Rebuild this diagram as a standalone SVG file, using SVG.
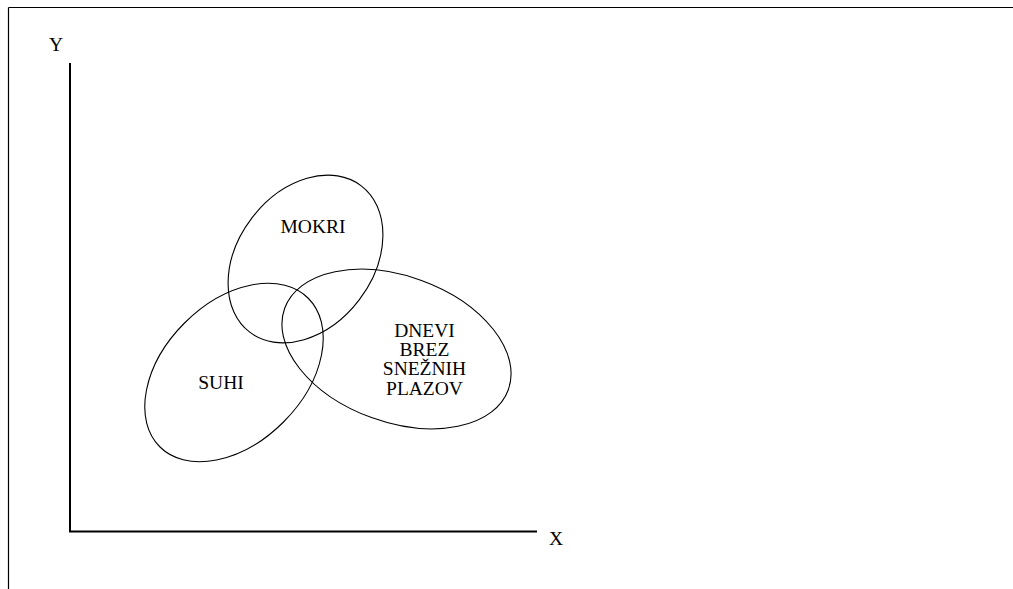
<svg xmlns="http://www.w3.org/2000/svg" width="1013" height="589" viewBox="0 0 1013 589">
  <style>
    .frame { stroke: #000; stroke-width: 1.2; fill: none; }
    .axis { stroke: #000; stroke-width: 2; fill: none; }
    .set { stroke: #000; stroke-width: 1.1; fill: none; }
    .lbl { font-family: "Liberation Serif", "Times New Roman", serif; font-size: 19.5px; fill: #000; text-anchor: middle; }
  </style>
  <rect width="1013" height="589" fill="#fff"/>
  <!-- page frame -->
  <g id="frame">
    <line class="frame" x1="8.5" y1="7.5" x2="1013" y2="7.5"/>
    <line class="frame" x1="8.5" y1="7.5" x2="8.5" y2="589"/>
  </g>
  <!-- coordinate axes -->
  <g id="axes">
    <polyline class="axis" points="70,63 70,531.5 537,531.5"/>
    <text class="lbl" x="56" y="51">Y</text>
    <text class="lbl" x="556" y="545">X</text>
  </g>
  <!-- sets -->
  <g id="mokri">
    <ellipse class="set" cx="305.5" cy="259" rx="92" ry="67.5" transform="rotate(-52.7 305.5 259)"/>
    <text class="lbl" x="313" y="233">MOKRI</text>
  </g>
  <g id="suhi">
    <ellipse class="set" cx="234" cy="372.5" rx="105" ry="70" transform="rotate(-45 234 372.5)"/>
    <text class="lbl" x="221" y="388.5">SUHI</text>
  </g>
  <g id="dnevi">
    <ellipse class="set" cx="396.5" cy="349" rx="119" ry="73" transform="rotate(20 396.5 349)"/>
    <text class="lbl" x="424.5" y="336.5">DNEVI</text>
    <text class="lbl" x="424.5" y="355.5">BREZ</text>
    <text class="lbl" x="424.5" y="375">SNEŽNIH</text>
    <text class="lbl" x="424.5" y="394.5">PLAZOV</text>
  </g>
  <g id="connectors"/>
</svg>
